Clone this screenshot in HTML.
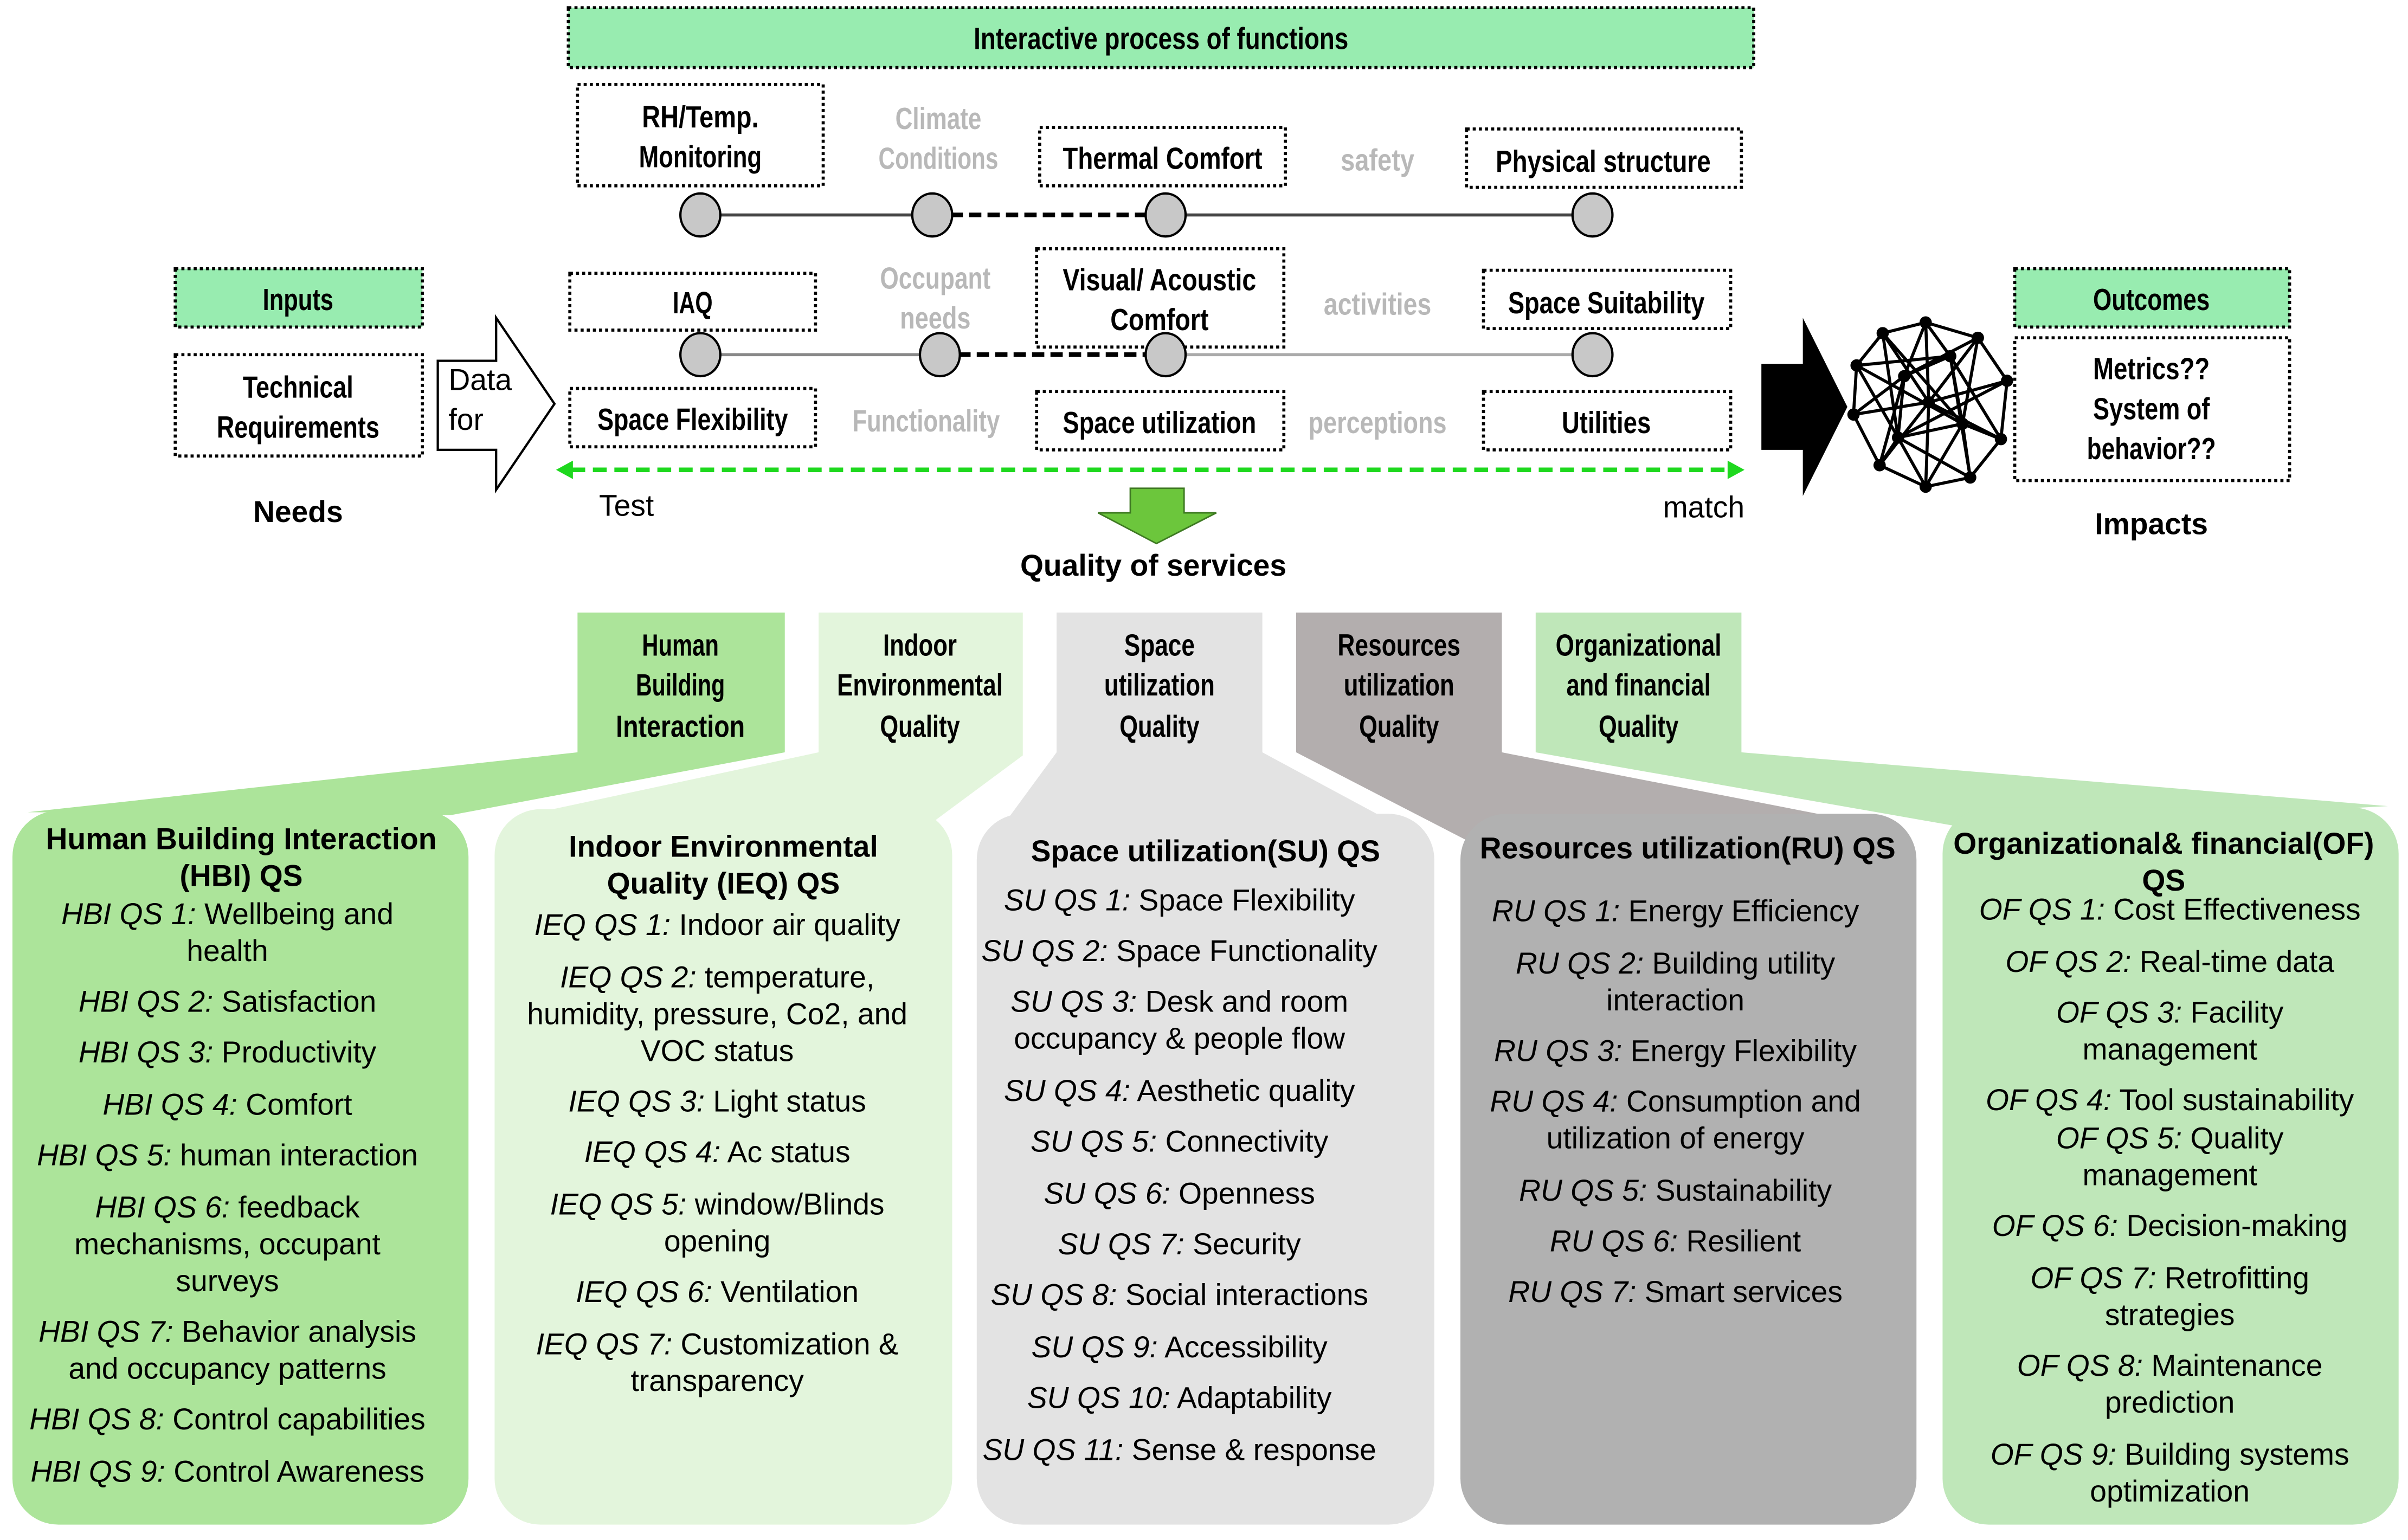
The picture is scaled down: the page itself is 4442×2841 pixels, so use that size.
<!DOCTYPE html>
<html><head><meta charset="utf-8"><style>
html,body{margin:0;padding:0;background:#fff;}
svg{display:block;}
.c{font-family:"Liberation Sans Narrow","Liberation Sans",sans-serif;font-weight:bold;fill:#000;}
.g{font-family:"Liberation Sans Narrow","Liberation Sans",sans-serif;font-weight:bold;fill:#b8b8b8;}
.t{font-family:"Liberation Sans",sans-serif;font-size:19.5px;fill:#000;}
.tb{font-family:"Liberation Sans",sans-serif;font-size:19.5px;font-weight:bold;fill:#000;}
.box{fill:#fff;stroke:#000;stroke-width:2;stroke-dasharray:2 2;}
.gbox{fill:#98ecb0;stroke:#000;stroke-width:2;stroke-dasharray:2 2;}
</style></head><body>
<svg width="4442" height="2841" viewBox="0 0 1568 1003" xmlns="http://www.w3.org/2000/svg">
<rect width="1568" height="1003" fill="#fff"/>
<rect class="gbox" x="370" y="5" width="772" height="39"/>
<text class="c" x="756" y="32" font-size="20" text-anchor="middle" textLength="244" lengthAdjust="spacingAndGlyphs">Interactive process of functions</text>

<rect class="box" x="376" y="55" width="160" height="66"/>
<text class="c" x="456" y="83" font-size="20" text-anchor="middle" textLength="76" lengthAdjust="spacingAndGlyphs">RH/Temp.</text>
<text class="c" x="456" y="109" font-size="20" text-anchor="middle" textLength="80" lengthAdjust="spacingAndGlyphs">Monitoring</text>
<text class="g" x="611" y="84" font-size="20" text-anchor="middle" textLength="56" lengthAdjust="spacingAndGlyphs">Climate</text>
<text class="g" x="611" y="110" font-size="20" text-anchor="middle" textLength="78" lengthAdjust="spacingAndGlyphs">Conditions</text>
<rect class="box" x="677" y="83" width="160" height="38"/>
<text class="c" x="757" y="110" font-size="20" text-anchor="middle" textLength="130" lengthAdjust="spacingAndGlyphs">Thermal Comfort</text>
<text class="g" x="897" y="111" font-size="20" text-anchor="middle" textLength="48" lengthAdjust="spacingAndGlyphs">safety</text>
<rect class="box" x="955" y="84" width="179" height="38"/>
<text class="c" x="1044" y="112" font-size="20" text-anchor="middle" textLength="140" lengthAdjust="spacingAndGlyphs">Physical structure</text>

<line x1="456" y1="140" x2="607" y2="140" stroke="#444" stroke-width="2"/>
<line x1="607" y1="140" x2="759" y2="140" stroke="#000" stroke-width="3" stroke-dasharray="8 4"/>
<line x1="759" y1="140" x2="1037" y2="140" stroke="#444" stroke-width="2"/>
<g fill="#c8c8c8" stroke="#000" stroke-width="1.5">
<ellipse cx="456" cy="140" rx="13" ry="14"/><ellipse cx="607" cy="140" rx="13" ry="14"/><ellipse cx="759" cy="140" rx="13" ry="14"/><ellipse cx="1037" cy="140" rx="13" ry="14"/>
</g>

<rect class="box" x="371" y="178" width="160" height="37"/>
<text class="c" x="451" y="204" font-size="20" text-anchor="middle" textLength="26" lengthAdjust="spacingAndGlyphs">IAQ</text>
<text class="g" x="609" y="188" font-size="20" text-anchor="middle" textLength="72" lengthAdjust="spacingAndGlyphs">Occupant</text>
<text class="g" x="609" y="214" font-size="20" text-anchor="middle" textLength="46" lengthAdjust="spacingAndGlyphs">needs</text>
<rect class="box" x="675" y="162" width="161" height="64"/>
<text class="c" x="755" y="189" font-size="20" text-anchor="middle" textLength="126" lengthAdjust="spacingAndGlyphs">Visual/ Acoustic</text>
<text class="c" x="755" y="215" font-size="20" text-anchor="middle" textLength="64" lengthAdjust="spacingAndGlyphs">Comfort</text>
<text class="g" x="897" y="205" font-size="20" text-anchor="middle" textLength="70" lengthAdjust="spacingAndGlyphs">activities</text>
<rect class="box" x="966" y="176" width="161" height="38"/>
<text class="c" x="1046" y="204" font-size="20" text-anchor="middle" textLength="128" lengthAdjust="spacingAndGlyphs">Space Suitability</text>

<line x1="456" y1="231" x2="612" y2="231" stroke="#888" stroke-width="2"/>
<line x1="612" y1="231" x2="759" y2="231" stroke="#000" stroke-width="3" stroke-dasharray="8 4"/>
<line x1="759" y1="231" x2="1037" y2="231" stroke="#aaa" stroke-width="2"/>
<g fill="#c8c8c8" stroke="#000" stroke-width="1.5">
<ellipse cx="456" cy="231" rx="13" ry="14"/><ellipse cx="612" cy="231" rx="13" ry="14"/><ellipse cx="759" cy="231" rx="13" ry="14"/><ellipse cx="1037" cy="231" rx="13" ry="14"/>
</g>

<rect class="box" x="371" y="253" width="160" height="38"/>
<text class="c" x="451" y="280" font-size="20" text-anchor="middle" textLength="124" lengthAdjust="spacingAndGlyphs">Space Flexibility</text>
<text class="g" x="603" y="281" font-size="20" text-anchor="middle" textLength="96" lengthAdjust="spacingAndGlyphs">Functionality</text>
<rect class="box" x="675" y="255" width="161" height="38"/>
<text class="c" x="755" y="282" font-size="20" text-anchor="middle" textLength="126" lengthAdjust="spacingAndGlyphs">Space utilization</text>
<text class="g" x="897" y="282" font-size="20" text-anchor="middle" textLength="90" lengthAdjust="spacingAndGlyphs">perceptions</text>
<rect class="box" x="966" y="255" width="161" height="38"/>
<text class="c" x="1046" y="282" font-size="20" text-anchor="middle" textLength="58" lengthAdjust="spacingAndGlyphs">Utilities</text>

<line x1="372" y1="306" x2="1126" y2="306" stroke="#1ed81e" stroke-width="3" stroke-dasharray="9 5"/>
<polygon points="362,306 373,300 373,312" fill="#1ed81e"/>
<polygon points="1136,306 1125,300 1125,312" fill="#1ed81e"/>
<text class="t" x="390" y="336" font-size="18">Test</text>
<text class="t" x="1136" y="337" font-size="18" text-anchor="end">match</text>

<polygon points="736,318 771,318 771,334 792,334 753,354 715,334 736,334" fill="#6cc63c" stroke="#3e7a22" stroke-width="1"/>
<text class="tb" x="751" y="375" text-anchor="middle">Quality of services</text>

<rect class="gbox" x="114" y="175" width="161" height="38"/>
<text class="c" x="194" y="202" font-size="20" text-anchor="middle" textLength="46" lengthAdjust="spacingAndGlyphs">Inputs</text>
<rect class="box" x="114" y="231" width="161" height="66"/>
<text class="c" x="194" y="259" font-size="20" text-anchor="middle" textLength="72" lengthAdjust="spacingAndGlyphs">Technical</text>
<text class="c" x="194" y="285" font-size="20" text-anchor="middle" textLength="106" lengthAdjust="spacingAndGlyphs">Requirements</text>
<text class="tb" x="194" y="340" text-anchor="middle">Needs</text>
<polygon points="285,235 323,235 323,207 361,263 323,319 323,293 285,293" fill="#fff" stroke="#000" stroke-width="1.5"/>
<text class="t" x="292" y="254" font-size="18">Data</text>
<text class="t" x="292" y="280" font-size="18">for</text>

<polygon points="1147,237 1174,237 1174,207 1203,265 1174,323 1174,293 1147,293" fill="#000"/>

<g stroke="#000" stroke-width="2" fill="none">
<polygon points="1254,210 1288,220 1307,248 1303,286 1283,311 1254,317 1224,303 1207,270 1209,238 1226,217"/>
<path d="M1254,210L1240,245L1224,303M1254,210L1270,232L1283,311M1288,220L1240,245L1207,270M1288,220L1256,262L1224,303M1307,248L1256,262L1207,270M1307,248L1236,285L1254,317M1303,286L1256,262L1226,217M1303,286L1270,232L1209,238M1283,311L1236,285L1209,238M1254,317L1256,262L1254,210M1226,217L1278,276L1283,311M1209,238L1278,276L1303,286M1288,220L1278,276L1254,317M1226,217L1236,285L1224,303M1270,232L1240,245L1236,285L1278,276L1270,232"/>
</g>
<g fill="#000">
<circle cx="1254" cy="210" r="4"/><circle cx="1288" cy="220" r="4"/><circle cx="1307" cy="248" r="4"/><circle cx="1303" cy="286" r="4"/><circle cx="1283" cy="311" r="4"/><circle cx="1254" cy="317" r="4"/><circle cx="1224" cy="303" r="4"/><circle cx="1207" cy="270" r="4"/><circle cx="1209" cy="238" r="4"/><circle cx="1226" cy="217" r="4"/><circle cx="1256" cy="262" r="4"/><circle cx="1270" cy="232" r="4"/><circle cx="1240" cy="245" r="4"/><circle cx="1278" cy="276" r="4"/><circle cx="1236" cy="285" r="4"/>
</g>

<rect class="gbox" x="1312" y="175" width="179" height="38"/>
<text class="c" x="1401" y="202" font-size="20" text-anchor="middle" textLength="76" lengthAdjust="spacingAndGlyphs">Outcomes</text>
<rect class="box" x="1312" y="220" width="179" height="93"/>
<text class="c" x="1401" y="247" font-size="20" text-anchor="middle" textLength="76" lengthAdjust="spacingAndGlyphs">Metrics??</text>
<text class="c" x="1401" y="273" font-size="20" text-anchor="middle" textLength="76" lengthAdjust="spacingAndGlyphs">System of</text>
<text class="c" x="1401" y="299" font-size="20" text-anchor="middle" textLength="84" lengthAdjust="spacingAndGlyphs">behavior??</text>
<text class="tb" x="1401" y="348" text-anchor="middle">Impacts</text>

<polygon points="376,399 511,399 511,490 293,531 18,529 376,490" fill="#ace49a"/>
<rect x="8" y="528" width="297" height="465" rx="30" fill="#ace49a"/>
<polygon points="533,399 666,399 666,492 608,535 360,527 533,490" fill="#e3f5dc"/>
<rect x="322" y="527" width="298" height="466" rx="30" fill="#e3f5dc"/>
<polygon points="688,399 822,399 822,490 915,540 655,535 688,490" fill="#e3e3e3"/>
<rect x="636" y="530" width="298" height="463" rx="30" fill="#e3e3e3"/>
<polygon points="844,399 978,399 978,490 1235,540 970,555 844,490" fill="#b3aeae"/>
<rect x="951" y="530" width="297" height="463" rx="30" fill="#b1b1b1"/>
<polygon points="1000,399 1134,399 1134,490 1555,525 1285,540 1000,490" fill="#bfe7b9"/>
<rect x="1265" y="526" width="297" height="467" rx="30" fill="#bfe7b9"/>

<g class="c" font-size="20" text-anchor="middle">
<text x="443" y="427" textLength="50" lengthAdjust="spacingAndGlyphs">Human</text>
<text x="443" y="453" textLength="58" lengthAdjust="spacingAndGlyphs">Building</text>
<text x="443" y="480" textLength="84" lengthAdjust="spacingAndGlyphs">Interaction</text>
<text x="599" y="427" textLength="48" lengthAdjust="spacingAndGlyphs">Indoor</text>
<text x="599" y="453" textLength="108" lengthAdjust="spacingAndGlyphs">Environmental</text>
<text x="599" y="480" textLength="52" lengthAdjust="spacingAndGlyphs">Quality</text>
<text x="755" y="427" textLength="46" lengthAdjust="spacingAndGlyphs">Space</text>
<text x="755" y="453" textLength="72" lengthAdjust="spacingAndGlyphs">utilization</text>
<text x="755" y="480" textLength="52" lengthAdjust="spacingAndGlyphs">Quality</text>
<text x="911" y="427" textLength="80" lengthAdjust="spacingAndGlyphs">Resources</text>
<text x="911" y="453" textLength="72" lengthAdjust="spacingAndGlyphs">utilization</text>
<text x="911" y="480" textLength="52" lengthAdjust="spacingAndGlyphs">Quality</text>
<text x="1067" y="427" textLength="108" lengthAdjust="spacingAndGlyphs">Organizational</text>
<text x="1067" y="453" textLength="94" lengthAdjust="spacingAndGlyphs">and financial</text>
<text x="1067" y="480" textLength="52" lengthAdjust="spacingAndGlyphs">Quality</text>
</g>

<g text-anchor="middle">
<text class="tb" x="157" y="553">Human Building Interaction</text>
<text class="tb" x="157" y="577">(HBI) QS</text>
<text class="t" x="148" y="602"><tspan font-style="italic">HBI QS 1:</tspan> Wellbeing and</text>
<text class="t" x="148" y="626">health</text>
<text class="t" x="148" y="659"><tspan font-style="italic">HBI QS 2:</tspan> Satisfaction</text>
<text class="t" x="148" y="692"><tspan font-style="italic">HBI QS 3:</tspan> Productivity</text>
<text class="t" x="148" y="726"><tspan font-style="italic">HBI QS 4:</tspan> Comfort</text>
<text class="t" x="148" y="759"><tspan font-style="italic">HBI QS 5:</tspan> human interaction</text>
<text class="t" x="148" y="793"><tspan font-style="italic">HBI QS 6:</tspan> feedback</text>
<text class="t" x="148" y="817">mechanisms, occupant</text>
<text class="t" x="148" y="841">surveys</text>
<text class="t" x="148" y="874"><tspan font-style="italic">HBI QS 7:</tspan> Behavior analysis</text>
<text class="t" x="148" y="898">and occupancy patterns</text>
<text class="t" x="148" y="931"><tspan font-style="italic">HBI QS 8:</tspan> Control capabilities</text>
<text class="t" x="148" y="965"><tspan font-style="italic">HBI QS 9:</tspan> Control Awareness</text>

<text class="tb" x="471" y="558">Indoor Environmental</text>
<text class="tb" x="471" y="582">Quality (IEQ) QS</text>
<text class="t" x="467" y="609"><tspan font-style="italic">IEQ QS 1:</tspan> Indoor air quality</text>
<text class="t" x="467" y="643"><tspan font-style="italic">IEQ QS 2:</tspan> temperature,</text>
<text class="t" x="467" y="667">humidity, pressure, Co2, and</text>
<text class="t" x="467" y="691">VOC status</text>
<text class="t" x="467" y="724"><tspan font-style="italic">IEQ QS 3:</tspan> Light status</text>
<text class="t" x="467" y="757"><tspan font-style="italic">IEQ QS 4:</tspan> Ac status</text>
<text class="t" x="467" y="791"><tspan font-style="italic">IEQ QS 5:</tspan> window/Blinds</text>
<text class="t" x="467" y="815">opening</text>
<text class="t" x="467" y="848"><tspan font-style="italic">IEQ QS 6:</tspan> Ventilation</text>
<text class="t" x="467" y="882"><tspan font-style="italic">IEQ QS 7:</tspan> Customization &amp;</text>
<text class="t" x="467" y="906">transparency</text>

<text class="tb" x="785" y="561">Space utilization(SU) QS</text>
<text class="t" x="768" y="593"><tspan font-style="italic">SU QS 1:</tspan> Space Flexibility</text>
<text class="t" x="768" y="626"><tspan font-style="italic">SU QS 2:</tspan> Space Functionality</text>
<text class="t" x="768" y="659"><tspan font-style="italic">SU QS 3:</tspan> Desk and room</text>
<text class="t" x="768" y="683">occupancy &amp; people flow</text>
<text class="t" x="768" y="717"><tspan font-style="italic">SU QS 4:</tspan> Aesthetic quality</text>
<text class="t" x="768" y="750"><tspan font-style="italic">SU QS 5:</tspan> Connectivity</text>
<text class="t" x="768" y="784"><tspan font-style="italic">SU QS 6:</tspan> Openness</text>
<text class="t" x="768" y="817"><tspan font-style="italic">SU QS 7:</tspan> Security</text>
<text class="t" x="768" y="850"><tspan font-style="italic">SU QS 8:</tspan> Social interactions</text>
<text class="t" x="768" y="884"><tspan font-style="italic">SU QS 9:</tspan> Accessibility</text>
<text class="t" x="768" y="917"><tspan font-style="italic">SU QS 10:</tspan> Adaptability</text>
<text class="t" x="768" y="951"><tspan font-style="italic">SU QS 11:</tspan> Sense &amp; response</text>

<text class="tb" x="1099" y="559">Resources utilization(RU) QS</text>
<text class="t" x="1091" y="600"><tspan font-style="italic">RU QS 1:</tspan> Energy Efficiency</text>
<text class="t" x="1091" y="634"><tspan font-style="italic">RU QS 2:</tspan> Building utility</text>
<text class="t" x="1091" y="658">interaction</text>
<text class="t" x="1091" y="691"><tspan font-style="italic">RU QS 3:</tspan> Energy Flexibility</text>
<text class="t" x="1091" y="724"><tspan font-style="italic">RU QS 4:</tspan> Consumption and</text>
<text class="t" x="1091" y="748">utilization of energy</text>
<text class="t" x="1091" y="782"><tspan font-style="italic">RU QS 5:</tspan> Sustainability</text>
<text class="t" x="1091" y="815"><tspan font-style="italic">RU QS 6:</tspan> Resilient</text>
<text class="t" x="1091" y="848"><tspan font-style="italic">RU QS 7:</tspan> Smart services</text>

<text class="tb" x="1409" y="556">Organizational&amp; financial(OF)</text>
<text class="tb" x="1409" y="580">QS</text>
<text class="t" x="1413" y="599"><tspan font-style="italic">OF QS 1:</tspan> Cost Effectiveness</text>
<text class="t" x="1413" y="633"><tspan font-style="italic">OF QS 2:</tspan> Real-time data</text>
<text class="t" x="1413" y="666"><tspan font-style="italic">OF QS 3:</tspan> Facility</text>
<text class="t" x="1413" y="690">management</text>
<text class="t" x="1413" y="723"><tspan font-style="italic">OF QS 4:</tspan> Tool sustainability</text>
<text class="t" x="1413" y="748"><tspan font-style="italic">OF QS 5:</tspan> Quality</text>
<text class="t" x="1413" y="772">management</text>
<text class="t" x="1413" y="805"><tspan font-style="italic">OF QS 6:</tspan> Decision-making</text>
<text class="t" x="1413" y="839"><tspan font-style="italic">OF QS 7:</tspan> Retrofitting</text>
<text class="t" x="1413" y="863">strategies</text>
<text class="t" x="1413" y="896"><tspan font-style="italic">OF QS 8:</tspan> Maintenance</text>
<text class="t" x="1413" y="920">prediction</text>
<text class="t" x="1413" y="954"><tspan font-style="italic">OF QS 9:</tspan> Building systems</text>
<text class="t" x="1413" y="978">optimization</text>
</g>
</svg>
</body></html>
